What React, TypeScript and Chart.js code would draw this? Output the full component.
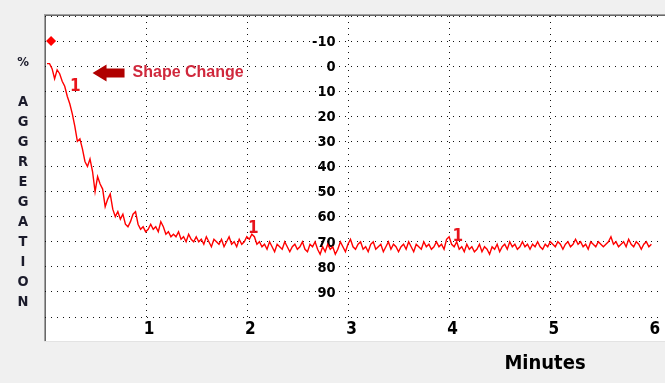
import { useEffect, useRef } from 'react';
import { Chart, registerables } from 'chart.js';

Chart.register(...registerables);

// ---- data ----
const sampleStart = 0.02; // minutes
const sampleStep = 0.025; // minutes between samples
const aggregationTrace = [
  -1, -1, 1, 5, 1.5, 3, 6, 8, 12, 15, 19, 24, 30, 29, 33, 38, 40, 37, 42, 50,
  44, 47, 49, 56, 53, 51, 57, 60, 58, 61, 59, 63, 64, 62, 59, 58, 63, 65, 64, 66,
  65, 63, 65, 64, 66, 62, 64, 67, 66, 68, 67, 68, 66, 69, 68, 70, 67, 69, 70, 68,
  70, 69, 71, 68, 70, 72, 69, 70, 71, 69, 72, 70, 68, 71, 70, 72, 69, 71, 70, 68,
  69, 67, 68, 71, 70, 72, 71, 73, 70, 72, 74, 71, 72, 73, 70, 72, 74, 72, 71, 73,
  72, 70, 73, 74, 71, 72, 70, 73, 75, 72, 74, 71, 73, 72, 75, 73, 70, 72, 74, 71,
  69, 72, 73, 71, 70, 73, 72, 74, 71, 70, 73, 72, 71, 74, 72, 70, 73, 71, 72, 74,
  72, 71, 73, 70, 72, 74, 71, 72, 73, 70, 72, 71, 73, 72, 70, 72, 71, 73, 69, 68,
  71, 72, 70, 73, 72, 74, 71, 73, 72, 74, 73, 71, 74, 72, 73, 75, 72, 73, 71, 74,
  72, 71, 73, 70, 72, 71, 73, 72, 70, 72, 71, 73, 71, 72, 70, 72, 73, 71, 72, 70,
  71, 72, 70, 71, 73, 71, 70, 72, 71, 69, 71, 70, 72, 71, 73, 70, 71, 72, 70, 71,
  72, 71, 70, 68, 71, 70, 72, 71, 70, 72, 69, 71, 72, 70, 71, 73, 71, 70, 72, 71,
];
const baselineMarker = [{ time: 0.06, level: -10 }];
const eventMarkers = [
  { time: 0.3, level: 8.3, label: '1' },
  { time: 2.06, level: 64.9, label: '1' },
  { time: 4.08, level: 68.1, label: '1' },
];
const shapeChangeNote = { time: 0.47, level: 2.7, text: 'Shape Change' };
const xTickLabels = [1, 2, 3, 4, 5, 6];
const yTickLabels = [-10, 0, 10, 20, 30, 40, 50, 60, 70, 80, 90];
const yLabelColumn = 2.873; // minutes: where the level labels are printed
const yAxisTitle = ['%', 'A', 'G', 'G', 'R', 'E', 'G', 'A', 'T', 'I', 'O', 'N'];
const xAxisTitle = 'Minutes';
const xRange = { min: 0, max: 6.08 };
const yRange = { min: -20, max: 100 };

const COND = "'DejaVu Sans Condensed', 'Liberation Sans Narrow', 'Liberation Sans', Arial, sans-serif";
const FONT = "'Liberation Sans', Arial, sans-serif";

const panelPlugin = {
  id: 'panel',
  beforeDraw(chart: any) {
    const { ctx, width, height } = chart;
    ctx.save();
    ctx.fillStyle = '#f0f0f0';
    ctx.fillRect(0, 0, width, height);
    ctx.fillStyle = '#ffffff';
    ctx.fillRect(44, 14, width - 44, 341 - 14);
    ctx.fillStyle = '#a0a0a0';
    ctx.fillRect(44, 14, width - 44, 1);
    ctx.fillRect(44, 14, 1, 341 - 14);
    ctx.fillStyle = '#696969';
    ctx.fillRect(45, 15, width - 45, 1);
    ctx.fillRect(45, 15, 1, 341 - 15);
    ctx.fillStyle = '#e3e3e3';
    ctx.fillRect(44, 341, width - 44, 1);
    ctx.restore();
  },
  beforeDatasetsDraw(chart: any) {
    const { ctx, scales } = chart;
    const xs = scales.x;
    const ys = scales.y;
    ctx.save();
    ctx.fillStyle = '#000000';
    ctx.font = `bold 14.5px ${COND}`;
    ctx.textAlign = 'right';
    ctx.textBaseline = 'middle';
    const lx = xs.getPixelForValue(yLabelColumn);
    yTickLabels.forEach((v) => {
      ctx.fillText(String(v), lx, ys.getPixelForValue(v) + 1);
    });
    ctx.font = `bold 17px ${COND}`;
    ctx.textAlign = 'center';
    ctx.textBaseline = 'middle';
    xTickLabels.forEach((v) => {
      ctx.fillText(String(v), xs.getPixelForValue(v) + 3, chart.chartArea.bottom + 13);
    });
    ctx.font = `bold 20px ${COND}`;
    ctx.fillText(xAxisTitle, 545, 364);
    ctx.fillStyle = '#1b1b2b';
    yAxisTitle.forEach((ch, i) => {
      if (i === 0) {
        ctx.font = `bold 13px ${COND}`;
        ctx.fillText(ch, 23, 63);
      } else {
        ctx.font = `bold 14.5px ${COND}`;
        ctx.fillText(ch, 23, 102 + (i - 1) * 20);
      }
    });
    const ax = xs.getPixelForValue(shapeChangeNote.time);
    const ay = ys.getPixelForValue(shapeChangeNote.level);
    ctx.fillStyle = '#b00000';
    ctx.beginPath();
    ctx.moveTo(ax, ay);
    ctx.lineTo(ax + 14, ay - 8.5);
    ctx.lineTo(ax + 14, ay - 4.5);
    ctx.lineTo(ax + 32, ay - 4.5);
    ctx.lineTo(ax + 32, ay + 4.5);
    ctx.lineTo(ax + 14, ay + 4.5);
    ctx.lineTo(ax + 14, ay + 8.5);
    ctx.closePath();
    ctx.fill();
    ctx.fillStyle = '#d0283c';
    ctx.font = `bold 16px ${FONT}`;
    ctx.textAlign = 'left';
    ctx.fillText(shapeChangeNote.text, ax + 40, ay);
    ctx.restore();
  },
  afterDatasetsDraw(chart: any) {
    const { ctx, scales } = chart;
    ctx.save();
    ctx.fillStyle = '#e8141c';
    ctx.font = `bold 17px ${COND}`;
    ctx.textAlign = 'center';
    ctx.textBaseline = 'middle';
    eventMarkers.forEach((m) => {
      ctx.fillText(m.label, scales.x.getPixelForValue(m.time), scales.y.getPixelForValue(m.level));
    });
    ctx.restore();
  },
};

export default function App() {
  const canvasRef = useRef<HTMLCanvasElement | null>(null);

  useEffect(() => {
    document.body.style.margin = '0';
    document.body.style.background = '#f0f0f0';
    const canvas = canvasRef.current;
    if (!canvas) return;
    const tracePoints = aggregationTrace.map((v, i) => ({ x: sampleStart + i * sampleStep, y: v }));
    const gridColor = (ctx: any) => {
      const v = ctx.tick ? ctx.tick.value : 0;
      if (ctx.scale.axis === 'x') {
        return v > 0 && v <= 6 && Number.isInteger(v) ? '#111111' : 'rgba(0,0,0,0)';
      }
      return '#111111';
    };
    const chart = new Chart(canvas, {
      type: 'scatter',
      data: {
        datasets: [
          {
            data: tracePoints,
            showLine: true,
            borderColor: '#ff0000',
            borderWidth: 1.4,
            pointRadius: 0,
            tension: 0,
          },
          {
            data: baselineMarker.map((m) => ({ x: m.time, y: m.level })),
            showLine: false,
            pointStyle: 'rectRot',
            pointRadius: 5,
            backgroundColor: '#ff0000',
            borderColor: '#ff0000',
            borderWidth: 0,
          },
        ],
      },
      plugins: [panelPlugin],
      options: {
        responsive: false,
        animation: false,
        layout: { padding: { left: 45, top: 16, right: 0, bottom: 66 } },
        plugins: { legend: { display: false }, tooltip: { enabled: false } },
        scales: {
          x: {
            type: 'linear',
            min: xRange.min,
            max: xRange.max,
            ticks: { display: false, stepSize: 1 },
            grid: { color: gridColor, lineWidth: 1, drawTicks: false },
            border: { display: false, dash: [1, 5] },
            afterFit: (s: any) => {
              s.height = 0;
            },
          },
          y: {
            type: 'linear',
            reverse: true,
            min: yRange.min,
            max: yRange.max,
            ticks: { display: false, stepSize: 10 },
            grid: { color: gridColor, lineWidth: 1, drawTicks: false },
            border: { display: false, dash: [1, 5] },
            afterFit: (s: any) => {
              s.width = 0;
            },
          },
        },
      },
    } as any);
    return () => {
      chart.destroy();
    };
  }, []);

  return (
    <div style={{ width: 665, height: 383, background: '#f0f0f0' }}>
      <canvas ref={canvasRef} width={665} height={383} style={{ display: 'block' }} />
    </div>
  );
}
